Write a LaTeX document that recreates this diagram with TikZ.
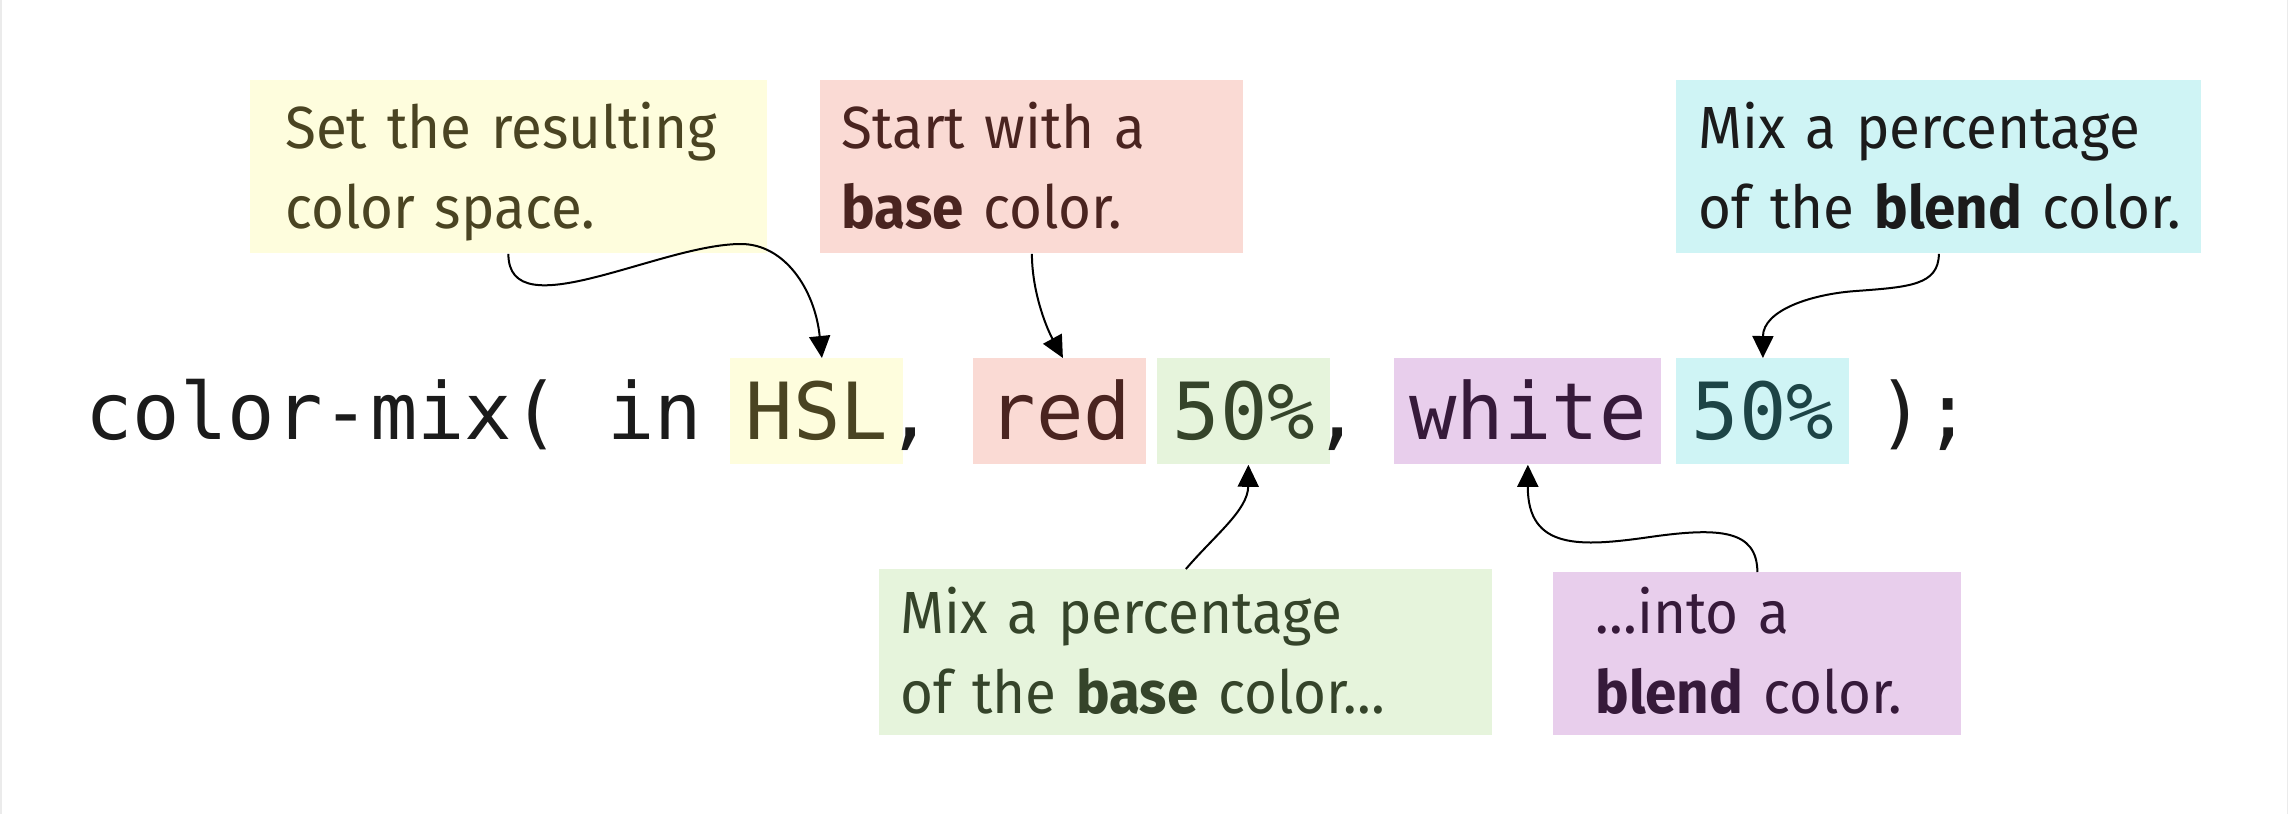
\documentclass[tikz,border=0pt]{standalone}
\usepackage{fontspec}
\setmainfont{Fira Sans}[FakeStretch=0.95]
\newfontfamily\codefont{DejaVu Sans Mono}
\usetikzlibrary{arrows.meta}
\definecolor{yfill}{HTML}{FEFDDD}
\definecolor{ytext}{HTML}{4A4422}
\definecolor{rfill}{HTML}{FADAD4}
\definecolor{rtext}{HTML}{4A2420}
\definecolor{gfill}{HTML}{E6F4DC}
\definecolor{gtext}{HTML}{35442A}
\definecolor{pfill}{HTML}{E8CEEC}
\definecolor{ptext}{HTML}{361A3A}
\definecolor{cfill}{HTML}{CFF4F5}
\definecolor{ctext}{HTML}{1D4446}
\definecolor{ink}{HTML}{1B1B1B}
\definecolor{edgegray}{HTML}{EBEBEB}
\begin{document}
\begin{tikzpicture}[x=0.5pt,y=-0.5pt,
  notebox/.style={anchor=north west, inner ysep=0pt, align=left,
    font=\fontsize{29.75pt}{40pt}\selectfont},
  codebox/.style={anchor=north west, inner sep=0pt, text height=40.5pt,
    text depth=12.5pt, minimum width=86.5pt,
    font=\codefont\fontsize{39.4pt}{48pt}\selectfont},
  codeplain/.style={anchor=base west, inner sep=0pt, text=ink,
    font=\codefont\fontsize{39.4pt}{48pt}\selectfont},
  arr/.style={draw=black, line width=1pt, -{Triangle[length=11pt,width=10.5pt]}}
]
\fill[white] (0,0) rectangle (2288,814);
\useasboundingbox (0,0) rectangle (2288,814);
\draw[edgegray, line width=0.75pt] (0.75,0) -- (0.75,814);
\draw[edgegray, line width=0.75pt] (2287.25,0) -- (2287.25,814);

% annotation boxes
\node[notebox, fill=yfill, text=ytext, minimum width=258.5pt, minimum height=86.5pt,
  inner xsep=17.65pt, text width=223.2pt] (yelnote) at (249.5,80)
  {\rule{0pt}{34pt}\mbox{Set the resulting}\\\mbox{color space.}\rule[-12.5pt]{0pt}{12.5pt}};
\node[notebox, fill=rfill, text=rtext, minimum width=211.5pt, minimum height=86.5pt,
  inner xsep=10.5pt, text width=190.5pt] (rednote) at (820,80)
  {\rule{0pt}{34pt}\mbox{Start with a}\\\mbox{\textbf{base} color.}\rule[-12.5pt]{0pt}{12.5pt}};
\node[notebox, fill=cfill, text=ink, minimum width=262.5pt, minimum height=86.5pt,
  inner xsep=11pt, text width=240.5pt] (cyannote) at (1676,80)
  {\rule{0pt}{34pt}\mbox{Mix a percentage}\\\mbox{of the \textbf{blend} color.}\rule[-12.5pt]{0pt}{12.5pt}};
\node[notebox, fill=gfill, text=gtext, minimum width=306.5pt, minimum height=83pt,
  inner xsep=10.5pt, text width=285.5pt] (grnnote) at (879,569)
  {\rule{0pt}{32pt}\mbox{Mix a percentage}\\\mbox{of the \textbf{base} color…}\rule[-11pt]{0pt}{11pt}};
\node[notebox, fill=pfill, text=ptext, minimum width=204pt, minimum height=81.5pt,
  inner xsep=21pt, text width=162pt] (purnote) at (1553,572)
  {\rule{0pt}{30.5pt}\mbox{…into a}\\\mbox{\textbf{blend} color.}\rule[-11pt]{0pt}{11pt}};

% code line
\node[codeplain] (codepre) at (85,439) {color-mix( in};
\node[codebox, fill=yfill, text=ytext] (hsl) at (730,358) {HSL};
\node[codebox, fill=rfill, text=rtext] (redc) at (973,358) {red};
\node[codebox, fill=gfill, text=gtext] (grnc) at (1157,358) {50\%};
\node[codebox, fill=pfill, text=ptext, minimum width=133.5pt] (whitec) at (1394,358) {white};
\node[codebox, fill=cfill, text=ctext] (cyanc) at (1676,358) {50\%};
\node[codeplain] (comma1) at (903,439) {\makebox[7pt]{,}};
\node[codeplain] (comma2) at (1330,439) {\makebox[7pt]{,}};
\node[codeplain] (codepost) at (1877,439) {);};

% connectors
\draw[arr] (yelnote.south) .. controls (508,330) and (660,244) .. (741,244)
  .. controls (785,244) and (815,290) .. ([xshift=2.5pt]hsl.north);
\draw[arr] (rednote.south) .. controls (1032,290) and (1045,325) .. ([xshift=1.5pt]redc.north);
\draw[arr] (cyannote.south) .. controls (1938.5,285) and (1910,287) .. (1856,291)
  .. controls (1812,294) and (1763,310) .. (cyanc.north);
\draw[arr] (grnnote.north) .. controls (1215,535) and (1248,510) .. ([xshift=2.25pt]grnc.south);
\draw[arr] (purnote.north) .. controls (1757,530) and (1720,527) .. (1650,537)
  .. controls (1580,547) and (1527.5,550) .. (whitec.south);
\end{tikzpicture}
\end{document}
